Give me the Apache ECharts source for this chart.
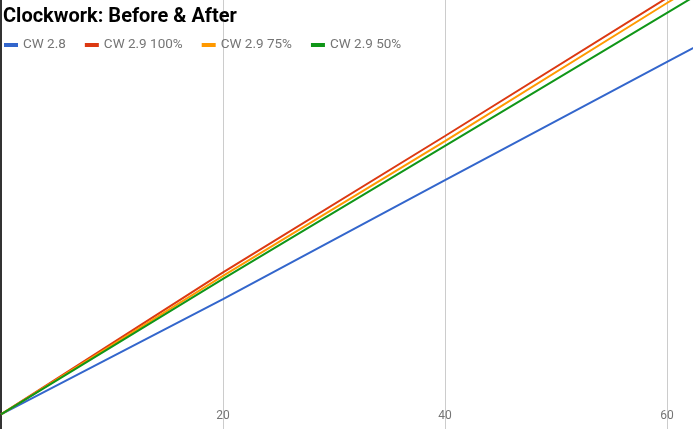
<!DOCTYPE html>
<html>
<head>
<meta charset="utf-8">
<script src="https://cdn.jsdelivr.net/npm/echarts@6/dist/echarts.min.js"></script>
<style>
html,body{margin:0;padding:0;background:#fff;}
#chart{width:693px;height:429px;}
</style>
</head>
<body>
<div id="chart"></div>
<script>
const seriesNames = ["CW 2.8", "CW 2.9 100%", "CW 2.9 75%", "CW 2.9 50%"];
const xValues = [0, 20, 40, 60, 64];
const cw28 = [3.4, 30.3, 58.0, 85.6, 91.0];
const cw29_100 = [3.4, 36.5, 68.3, 100.5, 107.0];
const cw29_75 = [3.4, 35.7, 67.1, 99.3, 105.6];
const cw29_50 = [3.4, 35.0, 66.0, 97.0, 103.2];
const colors = ["#3366cc", "#dc3912", "#ff9900", "#109618"];

const allSeries = [cw28, cw29_100, cw29_75, cw29_50];
const chart = echarts.init(document.getElementById('chart'), null, {renderer: 'canvas'});
chart.setOption({
  animation: false,
  color: colors,
  title: {
    text: "Clockwork: Before & After",
    left: 3, top: 7, padding: 0,
    textStyle: {fontFamily: "Roboto", fontSize: 20, fontWeight: "bold", color: "#000"}
  },
  legend: {
    left: 4, top: 38, padding: 0,
    itemWidth: 14, itemHeight: 4, itemGap: 19,
    icon: "rect",
    textStyle: {fontFamily: "Roboto", fontSize: 13.5, color: "#757575"},
    data: seriesNames
  },
  grid: {left: 1, right: 0, top: 0, bottom: 0, containLabel: false},
  xAxis: {
    type: "value", min: 0, max: 62.34, interval: 20,
    axisLine: {show: false}, axisTick: {show: false},
    axisLabel: {inside: true, margin: 7, showMinLabel: false, showMaxLabel: false,
      fontFamily: "Roboto", fontSize: 12, color: "#757575"},
    splitLine: {show: true, lineStyle: {color: "#cccccc", width: 1}}
  },
  yAxis: {
    type: "value", min: 0, max: 100,
    axisLine: {show: true, lineStyle: {color: "#333333", width: 2}},
    axisTick: {show: false}, axisLabel: {show: false},
    splitLine: {show: false}
  },
  series: allSeries.map((vals, i) => ({
    name: seriesNames[i],
    type: "line",
    showSymbol: false,
    symbol: "none",
    clip: true,
    lineStyle: {width: 2, color: colors[i]},
    data: xValues.map((x, j) => [x, vals[j]])
  }))
});
</script>
</body>
</html>
